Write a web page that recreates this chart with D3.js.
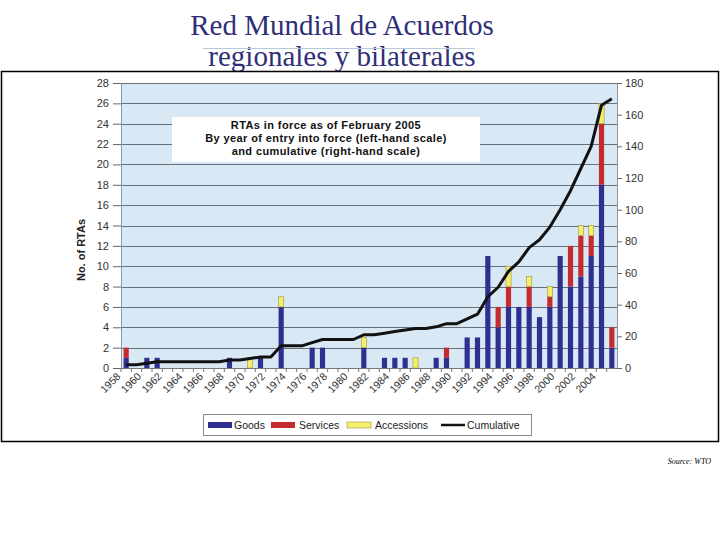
<!DOCTYPE html>
<html>
<head>
<meta charset="utf-8">
<script src="https://cdn.jsdelivr.net/npm/d3@7"></script>
<style>
  body { margin: 0; background: #fff; }
  svg { display: block; }
</style>
</head>
<body>
<div id="chart"></div>
<script>
// RTAs by year of entry into force (left scale) and cumulative (right scale)
var years = [1958, 1959, 1960, 1961, 1962, 1963, 1964, 1965, 1966, 1967,
             1968, 1969, 1970, 1971, 1972, 1973, 1974, 1975, 1976, 1977,
             1978, 1979, 1980, 1981, 1982, 1983, 1984, 1985, 1986, 1987,
             1988, 1989, 1990, 1991, 1992, 1993, 1994, 1995, 1996, 1997,
             1998, 1999, 2000, 2001, 2002, 2003, 2004, 2005];

var goods      = [1, 0, 1, 1, 0, 0, 0, 0, 0, 0,
                  1, 0, 0, 1, 0, 6, 0, 0, 2, 2,
                  0, 0, 0, 2, 0, 1, 1, 1, 0, 0,
                  1, 1, 0, 3, 3, 11, 4, 6, 6, 6,
                  5, 6, 11, 8, 9, 11, 18, 2];
var services   = [1, 0, 0, 0, 0, 0, 0, 0, 0, 0,
                  0, 0, 0, 0, 0, 0, 0, 0, 0, 0,
                  0, 0, 0, 0, 0, 0, 0, 0, 0, 0,
                  0, 1, 0, 0, 0, 0, 2, 2, 0, 2,
                  0, 1, 0, 4, 4, 2, 6, 2];
var accessions = [0, 0, 0, 0, 0, 0, 0, 0, 0, 0,
                  0, 0, 1, 0, 0, 1, 0, 0, 0, 0,
                  0, 0, 0, 1, 0, 0, 0, 0, 1, 0,
                  0, 0, 0, 0, 0, 0, 0, 2, 0, 1,
                  0, 1, 0, 0, 1, 1, 2, 0];
var cumulative = [2, 2, 3, 4, 4, 4, 4, 4, 4, 4,
                  5, 5, 6, 7, 7, 14, 14, 14, 16, 18,
                  18, 18, 18, 21, 21, 22, 23, 24, 25, 25,
                  26, 28, 28, 31, 34, 45, 51, 61, 67, 76,
                  81, 89, 100, 112, 126, 140, 166, 170];

var leftTicks = [0, 2, 4, 6, 8, 10, 12, 14, 16, 18, 20, 22, 24, 26, 28];
var rightTicks = [0, 20, 40, 60, 80, 100, 120, 140, 160, 180];
var yearLabels = [1958, 1960, 1962, 1964, 1966, 1968, 1970, 1972, 1974, 1976, 1978, 1980,
                  1982, 1984, 1986, 1988, 1990, 1992, 1994, 1996, 1998, 2000, 2002, 2004];
var seriesNames = ["Goods", "Services", "Accessions"];
var noteLines = ["RTAs in force as of February 2005",
                 "By year of entry into force (left-hand scale)",
                 "and cumulative (right-hand scale)"];

var colors = { Goods: "#2e2f8f", Services: "#c42a2e", Accessions: "#f4ee6a" };
var sans = "'Liberation Sans', Arial, sans-serif";

var svg = d3.select('#chart').append('svg')
    .attr('width', 720)
    .attr('height', 540);

// title
var title = svg.append('g')
    .attr('font-family', "'Liberation Serif', 'Times New Roman', serif")
    .attr('font-size', 29)
    .attr('fill', '#2f2f78')
    .attr('text-anchor', 'middle');
title.append('text').attr('x', 342).attr('y', 35).text('Red Mundial de Acuerdos');
title.append('text').attr('x', 342).attr('y', 66).text('regionales y bilaterales');
svg.append('line')
    .attr('x1', 203).attr('x2', 475).attr('y1', 48.5).attr('y2', 48.5)
    .attr('stroke', '#b4cad6').attr('stroke-width', 1);

// frame around the chart picture
svg.append('rect')
    .attr('x', 1.5).attr('y', 71.5).attr('width', 717).attr('height', 370)
    .attr('fill', '#fff').attr('stroke', '#000').attr('stroke-width', 1.5);

var plotL = 121, plotR = 617, plotT = 83, plotB = 368;

var x = d3.scaleBand().domain(years).range([plotL, plotR]).paddingInner(0.5).paddingOuter(0.25);
var yL = d3.scaleLinear().domain([0, 28]).range([plotB, plotT]);
var yR = d3.scaleLinear().domain([0, 180]).range([plotB, plotT]);

svg.append('rect')
    .attr('x', plotL).attr('y', plotT).attr('width', plotR - plotL).attr('height', plotB - plotT)
    .attr('fill', '#d9e8f5');

// gridlines
svg.append('g').selectAll('line')
    .data(leftTicks.slice(1))
    .enter().append('line')
    .attr('x1', plotL).attr('x2', plotR)
    .attr('y1', function(d) { return Math.round(yL(d)) + 0.5; })
    .attr('y2', function(d) { return Math.round(yL(d)) + 0.5; })
    .attr('stroke', '#66717c').attr('stroke-width', 1);

// stacked bars
var rows = years.map(function(yr, i) {
  return { year: yr, Goods: goods[i], Services: services[i], Accessions: accessions[i] };
});
var stacked = d3.stack().keys(seriesNames)(rows);

svg.append('g').selectAll('g')
    .data(stacked)
    .enter().append('g')
    .attr('fill', function(d) { return colors[d.key]; })
    .attr('stroke', function(d) { return d.key == 'Accessions' ? '#9c9640' : 'none'; })
    .attr('stroke-width', 0.6)
    .selectAll('rect')
    .data(function(d) { return d.filter(function(p) { return p[1] > p[0]; }); })
    .enter().append('rect')
    .attr('x', function(d) { return x(d.data.year); })
    .attr('width', x.bandwidth())
    .attr('y', function(d) { return yL(d[1]); })
    .attr('height', function(d) { return yL(d[0]) - yL(d[1]); });

// cumulative line
var line = d3.line()
    .x(function(d, i) { return x(years[i]) + x.bandwidth() / 2; })
    .y(function(d) { return yR(d); });
svg.append('path')
    .datum(cumulative)
    .attr('d', line)
    .attr('fill', 'none')
    .attr('stroke', '#111')
    .attr('stroke-width', 3)
    .attr('stroke-linejoin', 'round');

// axes
var axL = svg.append('g')
    .attr('transform', 'translate(' + plotL + ',0)')
    .call(d3.axisLeft(yL).tickValues(leftTicks).tickSize(8).tickPadding(4));
var axR = svg.append('g')
    .attr('transform', 'translate(' + plotR + ',0)')
    .call(d3.axisRight(yR).tickValues(rightTicks).tickSize(5).tickPadding(3));
[axL, axR].forEach(function(ax) {
  ax.selectAll('text').attr('font-family', sans).attr('font-size', 11).attr('fill', '#333');
  ax.selectAll('line').attr('stroke', '#666');
  ax.select('.domain').attr('stroke', '#8a97a3');
});

// x axis line and ticks between categories
svg.append('line')
    .attr('x1', plotL).attr('x2', plotR).attr('y1', plotB + 0.5).attr('y2', plotB + 0.5)
    .attr('stroke', '#777');
svg.append('g').selectAll('line')
    .data(years)
    .enter().append('line')
    .attr('x1', function(d) { return x(d) - x.step() * 0.25; })
    .attr('x2', function(d) { return x(d) - x.step() * 0.25; })
    .attr('y1', plotB).attr('y2', plotB + 4)
    .attr('stroke', '#777');

svg.append('g').selectAll('text')
    .data(yearLabels)
    .enter().append('text')
    .attr('transform', function(d) {
      return 'translate(' + (x(d) + x.bandwidth() / 2 - 5) + ',' + (plotB + 9) + ') rotate(-45)';
    })
    .attr('text-anchor', 'end')
    .attr('font-family', sans).attr('font-size', 10.5).attr('fill', '#333')
    .text(function(d) { return d; });

// y axis title
svg.append('text')
    .attr('transform', 'translate(85,250) rotate(-90)')
    .attr('text-anchor', 'middle')
    .attr('font-family', sans).attr('font-size', 11).attr('font-weight', 'bold').attr('fill', '#222')
    .text('No. of RTAs');

// note box
svg.append('rect')
    .attr('x', 172).attr('y', 117).attr('width', 308).attr('height', 45)
    .attr('fill', '#fff');
svg.append('g').selectAll('text')
    .data(noteLines)
    .enter().append('text')
    .attr('x', 326)
    .attr('y', function(d, i) { return 129 + i * 13; })
    .attr('text-anchor', 'middle')
    .attr('font-family', sans).attr('font-size', 11).attr('font-weight', 'bold')
    .attr('letter-spacing', 0.4).attr('fill', '#111')
    .text(function(d) { return d; });

// legend
var legend = svg.append('g');
legend.append('rect')
    .attr('x', 203.5).attr('y', 414.5).attr('width', 328).attr('height', 21)
    .attr('fill', '#fff').attr('stroke', '#8a8a8a');
var legendItems = [
  { name: 'Goods', sx: 208, tx: 234 },
  { name: 'Services', sx: 271, tx: 299 },
  { name: 'Accessions', sx: 347, tx: 375 },
  { name: 'Cumulative', sx: 441, tx: 467 }
];
legendItems.forEach(function(it) {
  if (it.name == 'Cumulative') {
    legend.append('line')
        .attr('x1', it.sx).attr('x2', it.sx + 24).attr('y1', 425).attr('y2', 425)
        .attr('stroke', '#111').attr('stroke-width', 2.5);
  } else {
    legend.append('rect')
        .attr('x', it.sx).attr('y', 422).attr('width', 24).attr('height', 6)
        .attr('fill', colors[it.name])
        .attr('stroke', it.name == 'Accessions' ? '#9c9640' : 'none').attr('stroke-width', 0.6);
  }
  legend.append('text')
      .attr('x', it.tx).attr('y', 429)
      .attr('font-family', sans).attr('font-size', 10.5).attr('fill', '#222')
      .text(it.name);
});

// source
svg.append('text')
    .attr('x', 711).attr('y', 464)
    .attr('text-anchor', 'end')
    .attr('font-family', "'Liberation Serif', 'Times New Roman', serif")
    .attr('font-style', 'italic').attr('font-size', 8).attr('fill', '#000')
    .text('Source: WTO');
</script>
</body>
</html>
